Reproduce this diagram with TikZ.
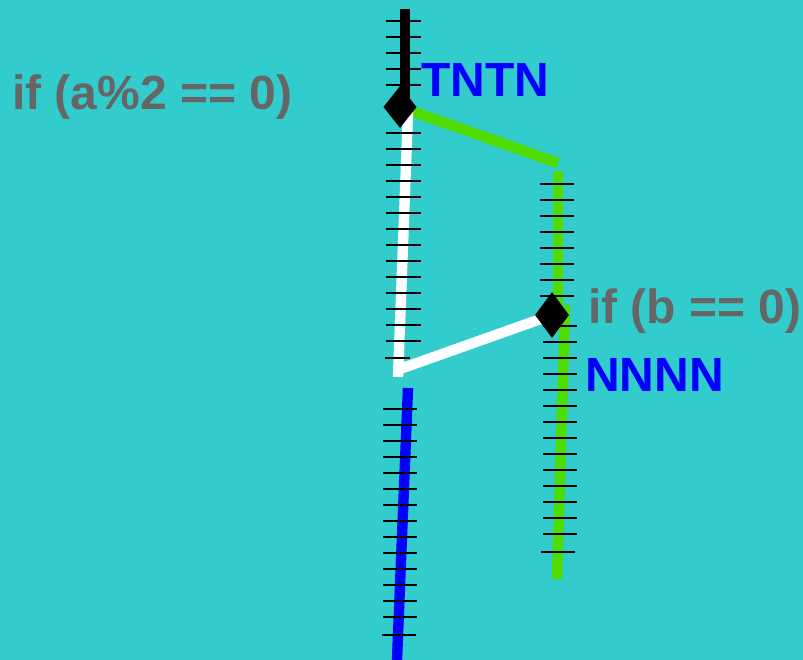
\documentclass[tikz,border=0pt]{standalone}
\usepackage{fontspec}
\setmainfont{Liberation Sans}
\usetikzlibrary{shapes.geometric}
\definecolor{sea}{RGB}{51,204,204}
\definecolor{leaf}{RGB}{80,220,0}
\definecolor{slate}{RGB}{102,102,102}
\definecolor{pureblue}{RGB}{0,0,255}
\pgfdeclarelayer{bg}
\pgfdeclarelayer{wires}
\pgfsetlayers{bg,wires,main}

\begin{document}
\begin{tikzpicture}[x=0.75pt, y=-0.75pt,
    branch/.style={line width=7.8pt},
    tickline/.style={line width=2pt, black},
    cond/.style={diamond, fill=black, inner sep=0pt},
    lbl/.style={inner sep=0pt, anchor=base west, font=\bfseries\fontsize{36}{40}\selectfont}]
  % Canvas is 803 x 660 px, one unit = one px.
  \useasboundingbox (0,0) rectangle (803,660);
  \begin{pgfonlayer}{bg}
    \fill[sea] (0,0) rectangle (803,660);
  \end{pgfonlayer}
  % Ticks: one every 16 px along each path.
  \foreach \y in {21,37,...,85} \draw[tickline] (386,\y) -- (421,\y);
  \foreach \y in {133,149,...,341} \draw[tickline] (386,\y) -- (421,\y);
  \draw[tickline] (385,358) -- (410,358);
  \foreach \y in {184,200,...,296} \draw[tickline] (540,\y) -- (574,\y);
  \foreach \y in {326,342,...,534} \draw[tickline] (543,\y) -- (577,\y);
  \draw[tickline] (541,552) -- (575,552);
  \foreach \y in {409,425,...,617} \draw[tickline] (383,\y) -- (417,\y);
  \draw[tickline] (382,635) -- (416,635);
  % Branch points.
  \node[cond, minimum width=25pt, minimum height=31.5pt] (ifa) at (400,107) {};
  \node[cond, minimum width=25.5pt, minimum height=34.5pt] (ifb) at (552,315) {};
  % Path ends and bends.
  \coordinate (start) at (405,9);
  \coordinate (gtop) at (558,163);
  \coordinate (gup) at (558,171);
  \coordinate (glow) at (565,305);
  \coordinate (gend) at (557,579);
  \coordinate (wtop) at (408,112);
  \coordinate (wbend) at (398,377);
  \coordinate (wturn) at (400,369);
  \coordinate (btop) at (408,388);
  \coordinate (bend) at (397,660);
  \begin{pgfonlayer}{wires}
    \draw[branch, black] (start) -- (start |- ifa.center);
    \draw[branch, leaf] (ifa.center) -- (gtop);
    \draw[branch, leaf] (gup) -- (gup |- ifb.center);
    \draw[branch, leaf] (glow) -- (gend);
    \draw[branch, white] (wtop) -- (wbend);
    \draw[branch, white] (wturn) -- (ifb.center);
    \draw[branch, pureblue] (btop) -- (bend);
  \end{pgfonlayer}
  % Labels.
  \node[lbl, slate] (conda) at (12,109) {if (a\%2 == 0)};
  \node[lbl, pureblue] (pata) at (421,97) {TNTN};
  \node[lbl, slate] (condb) at (588,323) {if (b == 0)};
  \node[lbl, pureblue] (patb) at (585,391) {NNNN};
\end{tikzpicture}
\end{document}
